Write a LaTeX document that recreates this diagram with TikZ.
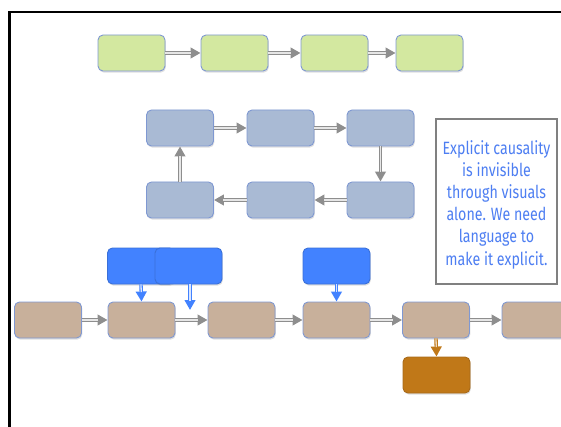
\documentclass[tikz,border=0pt]{standalone}
\usepackage{fontspec}
\newfontfamily\notefont[FakeStretch=0.8]{Fira Sans}
\usetikzlibrary{arrows.meta,shadows}

\definecolor{arrowgray}{HTML}{8E8E8E}
\definecolor{arrowcore}{HTML}{E6E6E6}
\definecolor{boxedge}{HTML}{7F98D2}
\definecolor{greenfill}{HTML}{D3E8A0}
\definecolor{slatefill}{HTML}{A9BAD4}
\definecolor{tanfill}{HTML}{C8B09B}
\definecolor{brightblue}{HTML}{4282FF}
\definecolor{blueedge}{HTML}{3A70D8}
\definecolor{ochre}{HTML}{C07818}
\definecolor{ochreedge}{HTML}{A86A1A}
\definecolor{textblue}{HTML}{4D7EF2}
\definecolor{noteedge}{HTML}{808080}

\tikzset{
  card/.style={rectangle, rounded corners=5pt, line width=0.9pt, draw=boxedge,
    minimum width=67pt, minimum height=36pt, inner sep=0pt,
    drop shadow={shadow xshift=0.8pt, shadow yshift=-1.6pt, opacity=0.25}},
  greencard/.style={card, fill=greenfill},
  slatecard/.style={card, fill=slatefill},
  tancard/.style={card, fill=tanfill},
  bluecard/.style={card, fill=brightblue, draw=blueedge},
  ochrecard/.style={card, fill=ochre, draw=ochreedge},
  flowline/.style={draw=#1, line width=3.4pt, -{Triangle[length=10pt,width=10.5pt]},
    postaction={draw=arrowcore, line width=1.3pt, shorten >=9.5pt, -}},
  flowline/.default=arrowgray,
  bluelink/.style={draw=brightblue, line width=3.4pt, -{Triangle[length=10pt,width=10.5pt]},
    postaction={draw=white!80!brightblue, line width=1.3pt, shorten >=9.5pt, -}},
  ochrelink/.style={draw=ochre, line width=3.4pt, -{Triangle[length=10pt,width=10.5pt]},
    postaction={draw=white!70!ochre, line width=1.3pt, shorten >=9.5pt, -}},
}

\begin{document}
\begin{tikzpicture}[x=1pt, y=-1pt]
\useasboundingbox (0,0) rectangle (561,427);

% frame
\draw[line width=2.6pt, line cap=rect] (9.5,430) -- (9.5,12) -- (565,12);

% linear chain
\node[greencard] (g1) at (131.5,53) {};
\node[greencard] (g2) at (234.5,53) {};
\node[greencard] (g3) at (334.5,53) {};
\node[greencard] (g4) at (429.5,53) {};
\draw[flowline] (g1) -- (g2);
\draw[flowline] (g2) -- (g3);
\draw[flowline] (g3) -- (g4);

% loop
\node[slatecard] (s1) at (180,128) {};
\node[slatecard] (s2) at (280.5,128) {};
\node[slatecard] (s3) at (380.5,128) {};
\node[slatecard] (s4) at (380.5,200) {};
\node[slatecard] (s5) at (280.5,200) {};
\node[slatecard] (s6) at (180,200) {};
\draw[flowline] (s1) -- (s2);
\draw[flowline] (s2) -- (s3);
\draw[flowline] (s3) -- (s4);
\draw[flowline] (s4) -- (s5);
\draw[flowline] (s5) -- (s6);
\draw[flowline] (s6) -- (s1);

% note
\node[draw=noteedge, line width=1.4pt, fill=white, minimum width=121pt,
  minimum height=165pt, inner sep=0pt] (note) at (496.5,201.5) {};
\node[align=center, text=textblue, font=\notefont\fontsize{17.8}{22.2}\selectfont]
  (notetext) at ([yshift=-3pt]note.center) {Explicit causality\\is invisible\\through visuals\\alone. We need\\language to\\make it explicit.};

% long chain with interventions
\node[tancard] (t1) at (48,320) {};
\node[tancard] (t2) at (141.5,320) {};
\node[tancard] (t3) at (241.5,320) {};
\node[tancard] (t4) at (336.5,320) {};
\node[tancard] (t5) at (436,320) {};
\node[tancard] (t6) at (535.5,320) {};
\draw[flowline] (t1) -- (t2);
\draw[flowline] (t2) -- (t3);
\draw[flowline] (t3) -- (t4);
\draw[flowline] (t4) -- (t5);
\draw[flowline] (t5) -- (t6);

\node[bluecard] (b1) at (141,266) {};
\node[bluecard] (b2) at (188.5,266) {};
\node[bluecard] (b3) at (336.5,266) {};
\coordinate (b2end) at (190,310);
\draw[bluelink] (b1.south) -- (t2.north);
\draw[bluelink] (b2.south -| b2end) -- (b2end);
\draw[bluelink] (b3.south) -- (t4.north);

\node[ochrecard] (o1) at (436.5,375) {};
\draw[ochrelink] (t5.south) -- (o1.north);
\end{tikzpicture}
\end{document}
